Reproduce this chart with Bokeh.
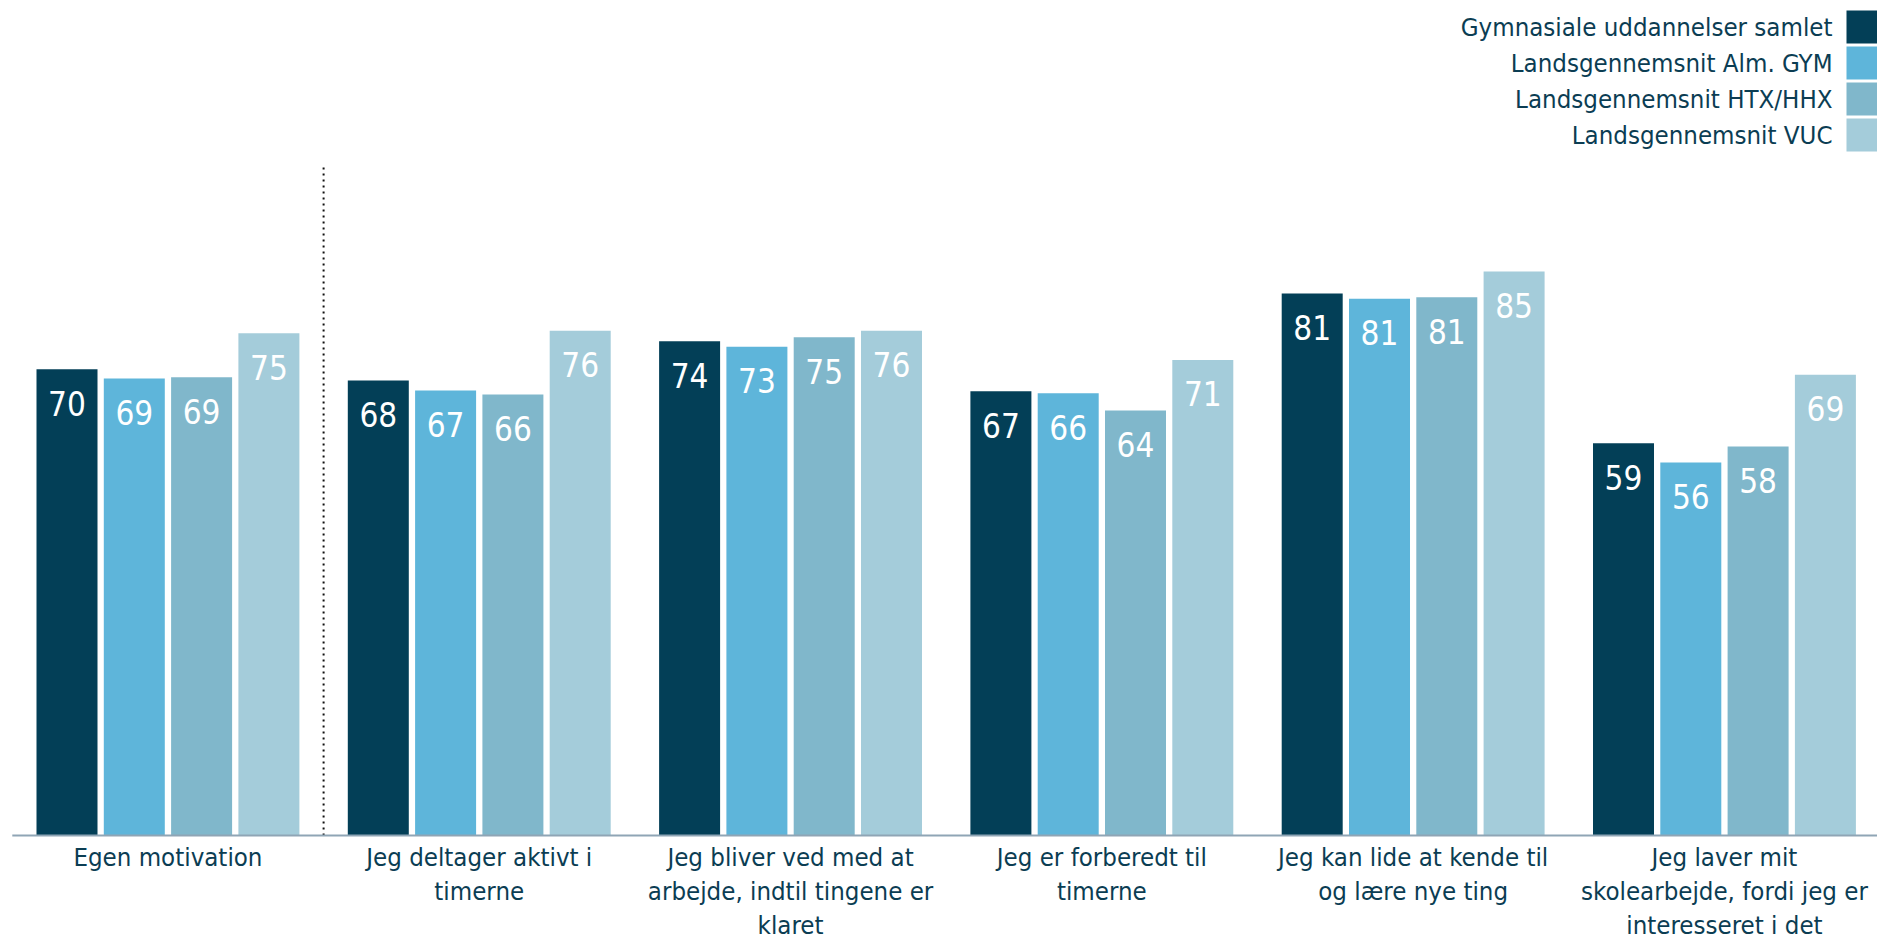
from bokeh.plotting import figure
from bokeh.models import Range1d, ColumnDataSource
from bokeh.core.properties import value
from bokeh.embed import file_html
from bokeh.resources import INLINE

# ---------------- data ----------------
categories = [
    "Egen motivation",
    "Jeg deltager aktivt i\ntimerne",
    "Jeg bliver ved med at\narbejde, indtil tingene er\nklaret",
    "Jeg er forberedt til\ntimerne",
    "Jeg kan lide at kende til\nog lære nye ting",
    "Jeg laver mit\nskolearbejde, fordi jeg er\ninteresseret i det",
]
series_names = [
    "Gymnasiale uddannelser samlet",
    "Landsgennemsnit Alm. GYM",
    "Landsgennemsnit HTX/HHX",
    "Landsgennemsnit VUC",
]
samlet = [70.0, 68.3, 74.2, 66.7, 81.4, 58.9]
alm_gym = [68.6, 66.8, 73.4, 66.4, 80.6, 56.0]
htx_hhx = [68.8, 66.2, 74.8, 63.8, 80.8, 58.4]
vuc = [75.4, 75.8, 75.8, 71.4, 84.7, 69.2]
series_values = [samlet, alm_gym, htx_hhx, vuc]
colors = ["#033F57", "#5EB5DA", "#80B7CB", "#A4CCDA"]

# ---------------- layout ----------------
FONT = "DejaVu Sans Condensed"
TEXT_COLOR = "#0B3D53"
W, H = 1877, 941
BASE_PX = 835.0        # baseline (value 0) from top of figure
PPU_Y = 6.66           # pixels per value unit
LEFT_PX = 11.8         # left edge of first category slot
PPU_X = 311.3          # pixels per category slot

x0 = -LEFT_PX / PPU_X
x1 = (W - LEFT_PX) / PPU_X
y1 = BASE_PX / PPU_Y
y0 = -(H - BASE_PX) / PPU_Y

p = figure(width=W, height=H, output_backend="svg", toolbar_location=None,
           x_range=Range1d(x0, x1), y_range=Range1d(y0, y1),
           min_border_left=0, min_border_right=0, min_border_top=0,
           min_border_bottom=0, x_axis_location=None, y_axis_location=None)
p.outline_line_color = None
p.xgrid.visible = False
p.ygrid.visible = False
p.background_fill_color = "white"
p.border_fill_color = "white"


def dx(px):
    return (px - LEFT_PX) / PPU_X


def dy(py):
    return (BASE_PX - py) / PPU_Y


bar_w = 61 / PPU_X
bar_step = 67.3 / PPU_X
label_drop = 34 / PPU_Y

for j, (vals, col) in enumerate(zip(series_values, colors)):
    xs = [i + 0.5 + (j - 1.5) * bar_step for i in range(len(categories))]
    src = ColumnDataSource(dict(x=xs, top=vals,
                                ly=[v - label_drop for v in vals],
                                txt=[f"{v:.0f}" for v in vals]))
    p.vbar(x="x", top="top", width=bar_w, bottom=0, source=src,
           fill_color=col, line_color=None)
    p.text(x="x", y="ly", text="txt", source=src, text_color="white",
           text_font=value(FONT), text_font_size="33px",
           text_align="center", text_baseline="middle")

# dotted separator after first category
p.segment(x0=[1.0], y0=[0], x1=[1.0], y1=[dy(164)], line_color="#111111",
          line_width=2, line_dash="2 4")

# baseline (axis line)
p.segment(x0=[0], y0=[0], x1=[x1], y1=[0], line_color="#8FA5B5",
          line_width=2)

# category labels
cat_src = ColumnDataSource(dict(x=[i + 0.5 for i in range(len(categories))],
                                y=[dy(BASE_PX + 6.5)] * len(categories),
                                txt=categories))
p.text(x="x", y="y", text="txt", source=cat_src, text_color=TEXT_COLOR,
       text_font=value(FONT), text_font_size="25.6px", text_align="center",
       text_baseline="top", text_line_height=1.14)

# legend (right aligned text with square at right)
leg_y = [dy(26.5 + 36 * k) for k in range(len(series_names))]
leg_src = ColumnDataSource(dict(y=leg_y, name=series_names, color=colors,
                                sx=[dx(1861.5)] * 4, tx=[dx(1832)] * 4))
p.rect(x="sx", y="y", width=31, height=33, width_units="screen",
       height_units="screen", fill_color="color", line_color=None,
       source=leg_src)
p.text(x="tx", y="y", text="name", source=leg_src, text_color=TEXT_COLOR,
       text_font=value(FONT), text_font_size="25.6px", text_align="right",
       text_baseline="middle")

open("out.html", "w").write(file_html(p, INLINE))
